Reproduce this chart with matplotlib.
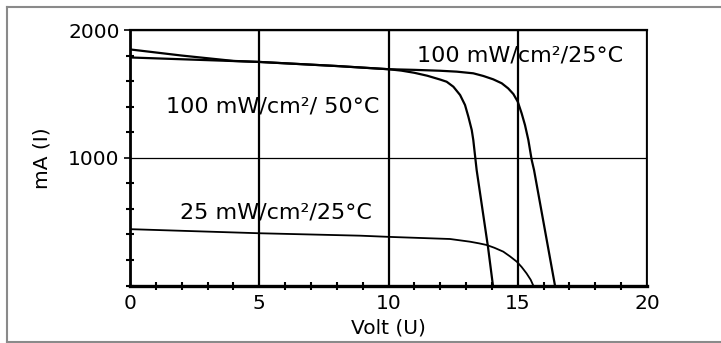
import matplotlib
matplotlib.use("Agg")
import matplotlib.pyplot as plt
from matplotlib.lines import Line2D
from matplotlib.ticker import MultipleLocator

# ---- data ----
v_100_25 = [0, 5, 8, 10, 11.0, 12.0, 12.64, 13.28, 13.67, 14.05, 14.38, 14.63, 14.83,
            15.0, 15.15, 15.28, 15.41, 15.54, 15.63, 16.44]
i_100_25 = [1785, 1750, 1718, 1693, 1688, 1681, 1674, 1661, 1640, 1614, 1583, 1543, 1499,
            1439, 1348, 1256, 1139, 982, 904, 0]

v_100_50 = [0, 2, 4, 5, 8, 10, 10.5, 11.0, 11.5, 12.0, 12.25, 12.51, 12.77, 12.96,
            13.09, 13.22, 13.28, 13.41, 13.85, 14.04]
i_100_50 = [1848, 1800, 1758, 1750, 1718, 1693, 1682, 1665, 1642, 1612, 1595, 1556, 1491, 1413,
            1321, 1217, 1139, 904, 300, 0]

v_25_25 = [0, 5, 8.9, 10.1, 12.38, 13.15, 13.5, 13.8, 14.1, 14.44, 14.7, 14.96, 15.15,
           15.34, 15.5, 15.6]
i_25_25 = [441, 409, 390, 380, 364, 343, 330, 317, 295, 265, 228, 187, 145, 95, 45, 0]

labels = ["100 mW/cm²/25°C", "100 mW/cm²/ 50°C", "25 mW/cm²/25°C"]
label_pos = [(11.1, 1804), (1.39, 1405), (1.93, 575)]

x_ticks = [0, 5, 10, 15, 20]
y_ticks = [1000, 2000]
x_label = "Volt (U)"
y_label = "mA (I)"

W, H = 721, 343
fig = plt.figure(figsize=(W / 100, H / 100), dpi=100)
ax = fig.add_axes([130 / W, 1 - 285.5 / H, (647 - 130) / W, (285.5 - 30) / H])

fs = 14.5
for v, i in [(v_100_25, i_100_25), (v_100_50, i_100_50)]:
    ax.plot(v, i, color="black", lw=1.6, solid_joinstyle="round")
ax.plot(v_25_25, i_25_25, color="black", lw=1.3, solid_joinstyle="round")

ax.set_xlim(0, 20)
ax.set_ylim(0, 2000)
ax.set_xticks(x_ticks)
ax.set_yticks(y_ticks)
ax.xaxis.set_minor_locator(MultipleLocator(1))
ax.yaxis.set_minor_locator(MultipleLocator(200))

ax.tick_params(axis="x", which="major", length=0, pad=6, labelsize=fs)
ax.tick_params(axis="y", which="major", length=4.5, width=1.2, direction="out", pad=3, labelsize=fs)
ax.tick_params(axis="x", which="minor", length=6, width=1.5, direction="inout")
ax.tick_params(axis="y", which="minor", length=6, width=1.5, direction="inout")

ax.xaxis.grid(True, which="major", color="black", lw=1.6)
ax.yaxis.grid(True, which="major", color="black", lw=0.9)
ax.set_axisbelow(False)

ax.spines["left"].set_linewidth(2.0)
ax.spines["bottom"].set_linewidth(2.4)
ax.spines["top"].set_linewidth(1.6)
ax.spines["right"].set_linewidth(1.3)

ax.set_xlabel(x_label, fontsize=fs, labelpad=4)
ax.set_ylabel(y_label, fontsize=fs, labelpad=12)

for txt, (x, y) in zip(labels, label_pos):
    ax.text(x, y, txt, fontsize=16, ha="left", va="center", color="black")

# outer gray frame: left, top and bottom edges (runs off the right edge)
frame_kw = dict(transform=fig.transFigure, color="#8a8a8a", lw=1.5)
x0, y_top, y_bot = 7 / W, 1 - 7 / H, 1 - 341.5 / H
fig.add_artist(Line2D([x0, x0], [y_bot, y_top], **frame_kw))
fig.add_artist(Line2D([x0, 1.0], [y_top, y_top], **frame_kw))
fig.add_artist(Line2D([x0, 1.0], [y_bot, y_bot], **frame_kw))

fig.savefig("out.png", dpi=100)
